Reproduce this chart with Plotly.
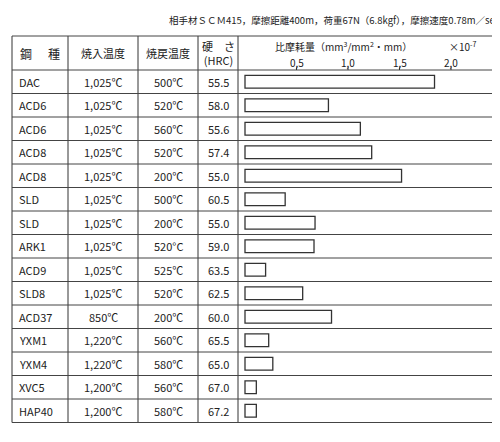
import plotly.graph_objects as go

steels = ["DAC", "ACD6", "ACD6", "ACD8", "ACD8", "SLD", "SLD", "ARK1", "ACD9", "SLD8",
          "ACD37", "YXM1", "YXM4", "XVC5", "HAP40"]
quench = ["1,025℃"] * 10 + ["850℃", "1,220℃", "1,220℃", "1,200℃", "1,200℃"]
temper = ["500℃", "520℃", "560℃", "520℃", "200℃", "500℃", "200℃", "520°C", "525℃", "520℃",
          "200℃", "560℃", "580℃", "560℃", "580℃"]
hardness = ["55.5", "58.0", "55.6", "57.4", "55.0", "60.5", "55.0", "59.0", "63.5", "62.5",
            "60.0", "65.5", "65.0", "67.0", "67.2"]
wear = [1.84, 0.81, 1.12, 1.23, 1.52, 0.39, 0.68, 0.67, 0.20, 0.56, 0.84, 0.23, 0.27, 0.11, 0.11]
ticks = [0.5, 1.0, 1.5, 2.0]

W, H = 500, 442
top, head_bot, row_h = 28, 62, 23.5
n = len(steels)
rows = list(range(n))
y_top = -head_bot / row_h - 0.5
y_bot = (H - head_bot) / row_h - 0.5
y_table_top = y_top + top / row_h
cols = [4, 60, 130, 190, 230, 496]
font = dict(family="Noto Sans CJK JP", size=11, color="#222")

def py(p):
    # pixel row -> y data value
    return y_top + p / row_h

fig = go.Figure(go.Bar(
    x=wear, y=rows, orientation="h", width=0.55,
    marker=dict(color="white", line=dict(color="#333", width=1.3)),
    hoverinfo="skip"))

shapes = []
for c in cols:
    shapes.append(dict(type="line", xref="paper", yref="y", x0=c / W, x1=c / W,
                       y0=y_table_top, y1=n - 0.5, line=dict(color="#333", width=1)))
for yy in [y_table_top, -0.5] + [i + 0.5 for i in rows]:
    shapes.append(dict(type="line", xref="paper", yref="y", x0=cols[0] / W, x1=cols[-1] / W,
                       y0=yy, y1=yy, line=dict(color="#444", width=1)))
for t in ticks:
    shapes.append(dict(type="line", xref="x", yref="y", x0=t, x1=t, y0=-0.5, y1=-0.62,
                       line=dict(color="#333", width=1)))

ann = []
def txt(x, y, s, anchor="center", size=11, xref="paper"):
    ann.append(dict(x=x, y=y, xref=xref, yref="y", text=s, showarrow=False,
                    xanchor=anchor, font=dict(font, size=size)))

for i in rows:
    txt(9 / W, i, steels[i], "left")
    txt(95 / W, i, quench[i])
    txt(160 / W, i, temper[i])
    txt(210 / W, i, hardness[i])
for t in ticks:
    txt(t, py(54), f"{t:.1f}".replace(".", ","), size=10, xref="x")

hy = (y_table_top - 0.5) / 2
txt(494 / W, py(12),
    "相手材ＳＣＭ415，摩擦距離400m，荷重67N（6.8kgf），摩擦速度0.78m／sec", "right", 9.5)
txt(10 / W, hy, "鋼", "left", 12)
txt(54 / W, hy, "種", "right", 12)
txt(95 / W, hy, "焼入温度")
txt(160 / W, hy, "焼戻温度")
ann.append(dict(x=210 / W, y=hy, xref="paper", yref="y", showarrow=False,
                text="硬　さ<br>(HRC)", font=font))
txt(335 / W, py(38),
    "比摩耗量（mm<sup>3</sup>/mm<sup>2</sup>・mm）", "center", 10)
txt(455 / W, py(38), "×10<sup>-7</sup>", "center", 10)

fig.update_layout(
    width=W, height=H, margin=dict(l=0, r=0, t=0, b=0),
    paper_bgcolor="white", plot_bgcolor="rgba(0,0,0,0)", showlegend=False,
    xaxis=dict(domain=[230 / W, 496 / W], range=[-7 / 103, 266 / 103 - 7 / 103],
               visible=False),
    yaxis=dict(range=[y_bot, y_top], visible=False),
    shapes=shapes, annotations=ann, font=font)

fig.write_html("out.html")
